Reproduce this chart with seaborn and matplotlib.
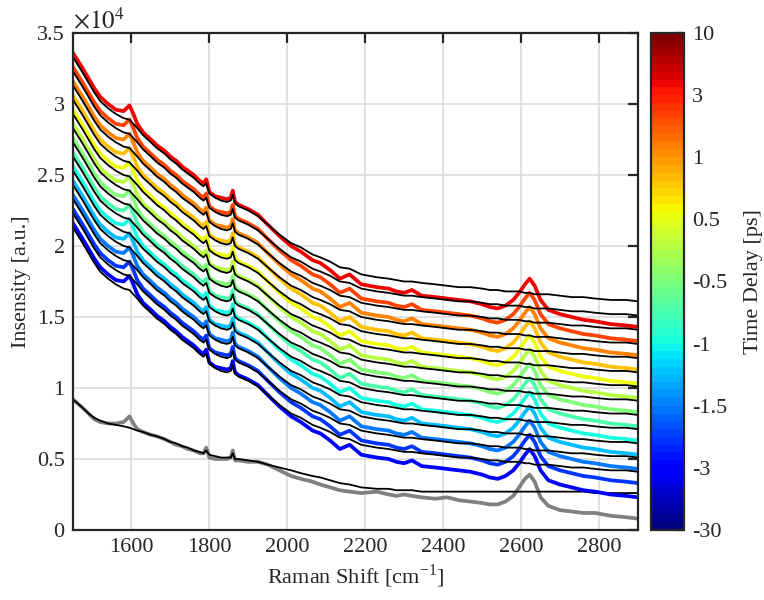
import matplotlib
matplotlib.use("Agg")
import matplotlib.pyplot as plt
import numpy as np
import seaborn as sns

# raman shift sample points (cm^-1)
shift = [1450, 1475, 1490, 1505, 1520, 1540, 1560, 1580, 1595, 1605, 1615, 1630, 1650, 1665,
         1685, 1700, 1715, 1730, 1745, 1760, 1775, 1785, 1792, 1800, 1815, 1830, 1845, 1855,
         1860, 1866, 1875, 1900, 1925, 1950, 1980, 2010, 2035, 2065, 2085, 2110, 2135, 2160,
         2190, 2230, 2260, 2280, 2300, 2320, 2345, 2380, 2410, 2440, 2470, 2500, 2520, 2540,
         2560, 2580, 2595, 2610, 2622, 2635, 2650, 2670, 2700, 2730, 2760, 2790, 2830, 2870, 2900]

# top (red) spectrum, x1e4
top_spec = [3.36, 3.25, 3.18, 3.11, 3.05, 3.00, 2.96, 2.95, 2.99, 2.93, 2.86, 2.80, 2.75, 2.71,
            2.67, 2.63, 2.60, 2.56, 2.53, 2.50, 2.46, 2.44, 2.47, 2.38, 2.35, 2.34, 2.33, 2.34,
            2.39, 2.31, 2.29, 2.26, 2.22, 2.15, 2.07, 2.00, 1.96, 1.90, 1.88, 1.83, 1.77, 1.80,
            1.73, 1.71, 1.70, 1.68, 1.67, 1.69, 1.65, 1.64, 1.63, 1.62, 1.61, 1.59, 1.57, 1.56,
            1.58, 1.62, 1.67, 1.73, 1.77, 1.72, 1.62, 1.55, 1.52, 1.50, 1.48, 1.47, 1.45, 1.44, 1.43]

# black background line that goes with the top spectrum
top_bg = [3.33, 3.22, 3.15, 3.08, 3.02, 2.97, 2.93, 2.90, 2.89, 2.86, 2.83, 2.78, 2.73, 2.69,
          2.65, 2.61, 2.58, 2.54, 2.51, 2.48, 2.44, 2.42, 2.44, 2.37, 2.34, 2.32, 2.31, 2.32,
          2.36, 2.30, 2.28, 2.25, 2.21, 2.15, 2.08, 2.02, 1.99, 1.94, 1.92, 1.89, 1.85, 1.84,
          1.80, 1.78, 1.77, 1.76, 1.75, 1.75, 1.74, 1.73, 1.72, 1.71, 1.71, 1.70, 1.69, 1.69,
          1.68, 1.68, 1.68, 1.67, 1.67, 1.66, 1.66, 1.66, 1.65, 1.64, 1.64, 1.63, 1.62, 1.62, 1.61]

# unpumped (gray) spectrum and its background
gray_spec = [0.92, 0.86, 0.82, 0.78, 0.76, 0.75, 0.75, 0.76, 0.80, 0.75, 0.71, 0.69, 0.67, 0.66,
             0.64, 0.62, 0.60, 0.59, 0.57, 0.56, 0.54, 0.54, 0.58, 0.51, 0.50, 0.50, 0.50, 0.51,
             0.56, 0.49, 0.49, 0.48, 0.48, 0.46, 0.42, 0.38, 0.36, 0.34, 0.32, 0.30, 0.28, 0.27,
             0.26, 0.27, 0.25, 0.24, 0.25, 0.24, 0.23, 0.22, 0.23, 0.21, 0.20, 0.19, 0.18, 0.18,
             0.20, 0.24, 0.30, 0.36, 0.39, 0.34, 0.23, 0.17, 0.14, 0.13, 0.12, 0.12, 0.10, 0.09, 0.08]

gray_bg = [0.92, 0.86, 0.82, 0.79, 0.77, 0.75, 0.74, 0.73, 0.72, 0.71, 0.70, 0.69, 0.67, 0.66,
           0.64, 0.62, 0.61, 0.59, 0.58, 0.56, 0.55, 0.54, 0.56, 0.53, 0.52, 0.51, 0.51, 0.51,
           0.54, 0.50, 0.50, 0.49, 0.48, 0.46, 0.44, 0.42, 0.40, 0.38, 0.37, 0.35, 0.33, 0.32,
           0.30, 0.29, 0.29, 0.28, 0.28, 0.28, 0.27, 0.27, 0.27, 0.27, 0.27, 0.27, 0.27, 0.27,
           0.27, 0.27, 0.27, 0.27, 0.27, 0.27, 0.27, 0.27, 0.27, 0.27, 0.27, 0.26, 0.26, 0.26, 0.26]

# waterfall offsets of the 13 delays (x1e4), red (top) to blue (bottom)
offsets = [0.0, -0.1, -0.2, -0.3, -0.4, -0.5, -0.6, -0.7, -0.8, -0.9, -1.0, -1.1, -1.2]

cbar_labels = ["-30", "-3", "-1.5", "-1", "-0.5", "0.5", "1", "3", "10"]

sns.set_theme(style="white")
plt.rcParams["font.family"] = ["Liberation Serif", "DejaVu Serif"]
plt.rcParams["mathtext.fontset"] = "stix"

fig = plt.figure(figsize=(7.64, 6.0), dpi=100)
ax = fig.add_axes([0.0955, 0.1167, 0.7395, 0.8283])

x = np.array(shift)
jet = plt.get_cmap("jet")
colors = jet(np.linspace(0.905, 0.11, len(offsets)))

dark = (0.15, 0.15, 0.15)

# gray reference first
sns.lineplot(x=x, y=np.array(gray_spec) * 1e4, color=(0.5, 0.5, 0.5), lw=2.7, ax=ax)
sns.lineplot(x=x, y=np.array(gray_bg) * 1e4, color="black", lw=1.3, ax=ax)

for off, c in zip(offsets, colors):
    sns.lineplot(x=x, y=(np.array(top_spec) + off) * 1e4, color=c, lw=2.7, ax=ax)
for off in offsets:
    sns.lineplot(x=x, y=(np.array(top_bg) + off) * 1e4, color="black", lw=1.3, ax=ax)

ax.set_xlim(1450, 2900)
ax.set_ylim(0, 35000)
ax.set_xticks([1600, 1800, 2000, 2200, 2400, 2600, 2800])
yt = np.arange(0, 35001, 5000)
ax.set_yticks(yt)
ax.set_yticklabels(["%g" % (v / 1e4) for v in yt])
ax.grid(True, color=(0.87, 0.87, 0.87), lw=1.3)
ax.set_axisbelow(True)
for s in ax.spines.values():
    s.set_color(dark)
    s.set_linewidth(1.6)
ax.tick_params(direction="in", length=7, width=1.6, colors=dark, labelsize=16,
               top=True, right=True, labelcolor=dark, pad=6)

ax.set_xlabel("Raman Shift [cm$^{\\mathregular{-1}}$]", fontsize=16, color=dark)
ax.set_ylabel("Insensity [a.u.]", fontsize=16, color=dark)
ax.text(0.0, 1.0, "$\\times10^{4}$", transform=ax.transAxes,
        fontsize=18, color=dark, ha="left", va="bottom")

# colorbar
cax = fig.add_axes([0.852, 0.1167, 0.043, 0.8283])
sm = matplotlib.cm.ScalarMappable(norm=matplotlib.colors.Normalize(0, 1),
                                  cmap=plt.get_cmap("jet", 64))
cb = fig.colorbar(sm, cax=cax)
cb.set_ticks(np.linspace(0, 1, len(cbar_labels)))
cb.set_ticklabels(cbar_labels)
cb.outline.set_edgecolor(dark)
cb.outline.set_linewidth(1.6)
cax.tick_params(direction="in", length=7, width=1.6, colors=dark, labelsize=16,
                labelcolor=dark, pad=6)
cb.set_label("Time Delay [ps]", fontsize=16, color=dark, labelpad=12)

fig.savefig("out.png", dpi=100)
